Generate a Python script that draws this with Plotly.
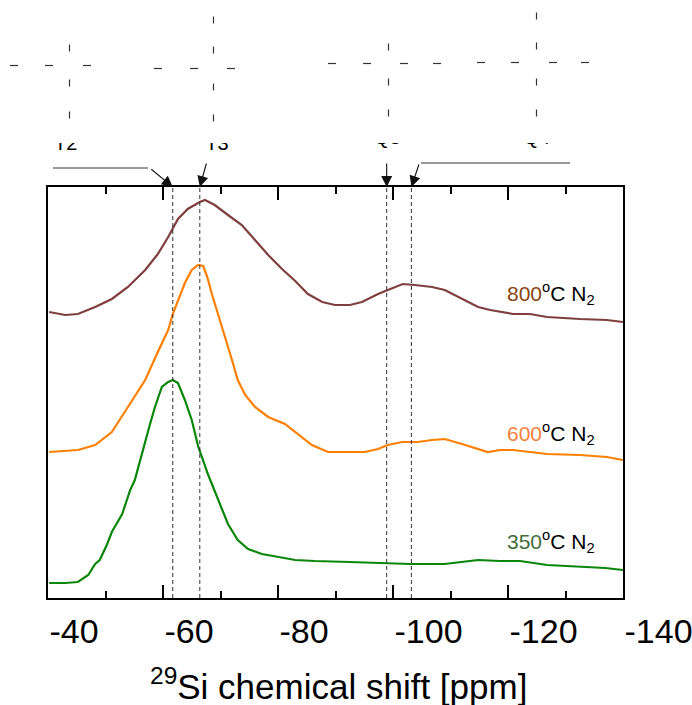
import plotly.graph_objects as go

# ---------------- data ----------------
ppm_350 = [-40.2, -43.0, -45.2, -47.0, -48.2, -49.0, -50.3, -51.1, -52.9, -54.3, -55.1, -56.0,
           -56.9, -57.7, -58.6, -59.8, -60.9, -61.7, -62.6, -63.8, -65.0, -66.1, -67.8, -69.9,
           -71.3, -73.0, -74.8, -77.2, -80.0, -83.0, -86.4, -89.9, -92.5, -97.7, -103.0, -109.0,
           -114.8, -118.6, -122.1, -126.8, -132.5, -136.9, -140.0]
int_350 = [15, 15, 16, 23, 34, 38, 54, 66, 84, 108, 118, 138,
           156, 173, 191, 211, 216, 218, 215, 198, 178, 152, 124, 94,
           74, 58, 49, 44, 41, 38, 37, 36, 36, 35, 34, 34,
           38, 37, 37, 33, 31, 30, 28]

ppm_600 = [-40.2, -43.0, -45.2, -48.2, -51.1, -53.9, -56.9, -59.1, -60.9, -61.7, -62.6, -63.8,
           -65.0, -66.1, -67.0, -67.7, -68.5, -69.6, -70.8, -72.0, -73.0, -74.3, -76.0, -78.3,
           -81.2, -83.5, -85.9, -88.7, -92.5, -95.1, -97.4, -99.1, -101.6, -104.3, -106.8, -109.0,
           -112.0, -114.8, -116.5, -118.6, -120.9, -126.8, -132.5, -137.2, -140.0]
int_600 = [146, 147, 148, 153, 166, 191, 218, 246, 268, 284, 298, 315,
           328, 333, 332, 321, 304, 284, 261, 238, 218, 203, 191, 181,
           174, 164, 153, 146, 146, 146, 149, 153, 156, 156, 158, 159,
           154, 149, 146, 148, 148, 144, 143, 141, 138]

ppm_800 = [-40.2, -43.0, -45.2, -48.2, -51.1, -53.9, -56.9, -59.1, -60.9, -62.6, -64.3, -66.4,
           -67.3, -69.0, -71.3, -73.7, -76.0, -78.3, -80.7, -83.0, -85.2, -87.7, -89.9, -92.5,
           -94.6, -97.4, -99.1, -101.7, -103.8, -106.8, -109.0, -112.0, -114.8, -116.9, -120.9,
           -123.8, -126.8, -132.5, -137.2, -140.0]
int_800 = [286, 283, 284, 291, 299, 311, 328, 344, 361, 379, 389, 396,
           398, 393, 383, 373, 358, 343, 329, 317, 304, 296, 293, 293,
           296, 304, 308, 314, 313, 311, 308, 299, 291, 288, 284,
           284, 281, 279, 278, 276]

series_names = ["800", "600", "350"]
series_colors = ["#7f3f3f", "#ff8000", "#0a870a"]
label_colors = ["#8b4513", "#f4813f", "#456d3a"]

peak_names = ["T2", "T3", "Q3", "Q4"]
peak_ppm = [-61.7, -66.4, -98.9, -103.2]
peak_label_ppm = [-43.1, -69.4, -99.0, -125.0]

tick_vals = [-40, -60, -80, -100, -120, -140]
tick_text = ["-40", "-60", "-80", "-100", "-120", "-140"]
minor_vals = [-50, -70, -90, -110, -130]

# ---------------- layout helpers ----------------
W, H = 692, 705
L, R, T, B = 48, 623, 187, 598
Y_MAX = 411


def px(x):
    return x / W


def py(y):
    return 1 - y / H


FONT = "Liberation Sans, Arial, sans-serif"
TICK_COLOR = "black"

fig = go.Figure()
for ppm, inten, col in zip([ppm_800, ppm_600, ppm_350], [int_800, int_600, int_350], series_colors):
    fig.add_trace(go.Scatter(x=ppm, y=inten, mode="lines", line=dict(color=col, width=2.2),
                             showlegend=False, hoverinfo="skip"))

# clipped peak labels (only their lower part shows)
fig.add_trace(go.Scatter(x=peak_label_ppm, y=[0.95, 0.95, 1.1, 1.1], text=peak_names,
                         mode="text", textposition="middle center",
                         textfont=dict(family=FONT, size=20, color="black"),
                         xaxis="x2", yaxis="y2", cliponaxis=True, showlegend=False,
                         hoverinfo="skip"))

shapes = []
# dashed peak markers
for p in peak_ppm:
    shapes.append(dict(type="line", xref="x", yref="y domain", x0=p, x1=p, y0=0, y1=1,
                       line=dict(color="#333333", width=1, dash="4px,3px")))

# connector lines for arrows
for (x0, x1, y) in [(53, 148, 168), (421, 570, 163)]:
    shapes.append(dict(type="line", xref="paper", yref="paper", x0=px(x0), x1=px(x1),
                       y0=py(y), y1=py(y), line=dict(color="#333333", width=1)))

# structural dash remnants at top
h_dashes = [(14, 65), (49, 65), (87, 65),
            (158, 68), (194, 68), (231, 68), (332, 63),
            (367, 63), (404, 63), (437, 63),
            (481, 62), (515, 62), (553, 62), (585, 62)]
v_dashes = [(69, 48), (69, 83), (69, 115),
            (213, 20), (213, 50), (213, 87), (213, 118),
            (388, 47), (388, 82), (388, 113),
            (536, 16), (536, 46), (536, 82), (536, 113)]
for (x, y) in h_dashes:
    shapes.append(dict(type="line", xref="paper", yref="paper", x0=px(x - 4), x1=px(x + 4),
                       y0=py(y + 0.5), y1=py(y + 0.5), line=dict(color="#333333", width=1.2)))
for (x, y) in v_dashes:
    shapes.append(dict(type="line", xref="paper", yref="paper", x0=px(x + 0.5), x1=px(x + 0.5),
                       y0=py(y - 3.5), y1=py(y + 3.5), line=dict(color="#333333", width=1.2)))

annotations = []
# arrows
arrow_offsets = [(-23, -19), (7, -25), (0, -25), (8, -24)]
for p, (ax, ay) in zip(peak_ppm, arrow_offsets):
    annotations.append(dict(x=p, y=1, xref="x", yref="y domain", text="", showarrow=True,
                            ax=ax, ay=ay, arrowhead=2, arrowsize=2, arrowwidth=1.1,
                            arrowcolor="#111111", standoff=0))

# series labels
label_y = [294, 433, 541]
for name, lc, yy in zip(series_names, label_colors, label_y):
    annotations.append(dict(x=px(505), y=py(yy), xref="paper", yref="paper",
                            xanchor="left", yanchor="middle", showarrow=False,
                            text=f'<span style="color:{lc}">{name}</span><sup>o</sup>C N<sub>2</sub>',
                            font=dict(family=FONT, size=21, color="black")))

# axis title
annotations.append(dict(x=px(338), y=py(684), xref="paper", yref="paper", showarrow=False,
                        xanchor="center", yanchor="middle",
                        text="<sup>29</sup>Si chemical shift [ppm]",
                        font=dict(family=FONT, size=35, color="black")))

fig.update_layout(
    width=W, height=H,
    margin=dict(l=0, r=0, t=0, b=0),
    paper_bgcolor="white", plot_bgcolor="white",
    showlegend=False,
    xaxis=dict(domain=[px(L), px(R)], range=[-40, -140], anchor="y",
               tickmode="array", tickvals=tick_vals, ticktext=tick_text,
               ticks="inside", ticklen=13, tickwidth=1.6, tickcolor=TICK_COLOR,
               minor=dict(tickmode="array", tickvals=minor_vals, ticks="inside",
                          ticklen=7, tickwidth=1.6, tickcolor=TICK_COLOR, showgrid=False),
               ticklabelposition="outside right", ticklabelstandoff=2,
               ticklabeloverflow="allow",
               showline=True, linewidth=1.5, linecolor="black", mirror="allticks",
               showgrid=False, zeroline=False, automargin=False,
               tickfont=dict(family=FONT, size=34, color="black")),
    yaxis=dict(domain=[py(B), py(T)], range=[0, Y_MAX], anchor="x",
               showline=True, linewidth=1.5, linecolor="black", mirror=True,
               ticks="", showticklabels=False, showgrid=False, zeroline=False,
               automargin=False),
    xaxis2=dict(domain=[px(L), px(R)], matches="x", anchor="y2", visible=False),
    yaxis2=dict(domain=[py(186), py(143)], range=[0, 1], anchor="x2", visible=False),
    shapes=shapes,
    annotations=annotations,
)

fig.write_html("out.html")
